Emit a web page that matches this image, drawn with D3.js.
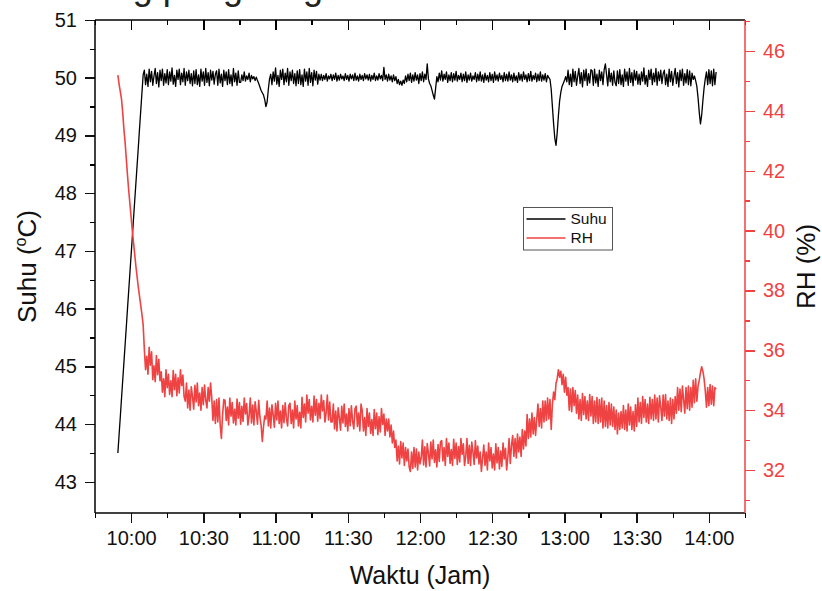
<!DOCTYPE html>
<html>
<head>
<meta charset="utf-8">
<script src="https://cdn.jsdelivr.net/npm/d3@7"></script>
<style>
	body { margin: 0; background: #fff; }
	svg { display: block; font-family: 'Liberation Sans', Arial, sans-serif; }
	.axis path, .axis line { shape-rendering: crispEdges; }
</style>
</head>
<body>
<div id="app"></div>
<script>

// readings every 30 s, starting 09:54:30
const startTime = '09:54:30';
const stepSeconds = 30;

// Suhu (oC), left axis
const suhu = [
	43.5, 43.81, 44.12, 44.44, 44.75, 45.06, 45.37, 45.68, 46.0, 46.31, 46.62,
	46.93, 47.24, 47.56, 47.87, 48.18, 48.49, 48.8, 49.12, 49.43, 49.74, 50.05,
	50.13, 49.88, 50.06, 49.85, 50.15, 49.93, 50.11, 49.87, 50.03, 50.16, 49.9, 50.09, 49.84, 50.13, 49.95, 50.15, 49.87, 50.07, 49.91, 50.14,
	49.88, 50.1, 49.94, 50.17, 49.89, 50.04, 49.85, 50.13, 49.97, 50.15, 49.88, 50.08, 49.93, 50.16, 49.87, 50.1, 49.95, 50.13, 49.9, 50.07,
	49.86, 50.12, 49.9, 50.14, 49.88, 50.05, 49.85, 50.15, 49.94, 50.1, 49.87, 50.16, 49.92, 50.09, 49.86, 50.13, 49.96, 50.11, 49.89, 50.06,
	50.12, 49.87, 50.15, 49.91, 50.06, 49.85, 50.13, 49.95, 50.1, 49.88, 50.14, 49.9, 50.05, 49.86, 50.16, 49.93, 50.08, 49.87, 50.12, 49.92,
	49.92, 50.05, 49.95, 50.1, 49.94, 50.03, 49.97, 50.08, 49.93, 50.04, 49.98, 50.02, 49.95, 50.01,
	49.95, 49.9, 49.84, 49.78, 49.74, 49.7, 49.62, 49.5, 49.58, 49.8, 49.98, 50.06,
	49.88, 50.1, 49.94, 50.17, 49.89, 50.04, 49.85, 50.13, 49.97, 50.15, 49.88, 50.08, 49.93, 50.16, 49.87, 50.1, 49.95, 50.13, 49.9, 50.07,
	49.86, 50.12, 49.9, 50.14, 49.88, 50.05, 49.85, 50.15, 49.94, 50.1, 49.87, 50.16, 49.92, 50.09, 49.86, 50.13, 49.96, 50.11, 49.89, 50.06,
	49.96, 50.06, 49.95, 50.04, 49.97, 50.07, 49.94, 50.03, 49.98, 50.06, 49.95, 50.05, 49.97, 50.08, 49.94, 50.04, 49.96, 50.06, 49.98, 50.03,
	49.95, 50.07, 49.97, 50.04, 49.94, 50.06, 49.98, 50.05, 49.95, 50.08, 49.96, 50.03, 49.94, 50.06, 49.97, 50.04, 49.95, 50.07, 49.98, 50.05,
	49.96, 50.06, 49.94, 50.04, 49.97, 50.08, 49.95, 50.03, 49.96, 50.07, 49.98, 50.04, 49.95, 50.18, 49.97, 50.05, 49.94, 50.06, 49.96, 50.03,
	49.93, 50.05, 49.95, 50.02, 49.9, 49.97, 49.88, 49.94, 49.87, 49.96, 49.9, 50.03, 49.93, 50.06, 49.95, 50.08, 49.92, 50.05,
	49.94, 50.09, 49.96, 50.05, 49.9, 50.07, 49.95, 50.1, 49.93, 50.06, 49.97, 50.24, 49.98, 49.9,
	49.86, 49.78, 49.7, 49.63, 49.82, 50.02,
	49.93, 50.08, 49.96, 50.12, 49.94, 50.06, 49.97, 50.1, 49.92, 50.05, 49.95, 50.09, 49.93, 50.07, 49.96, 50.11, 49.94, 50.04, 49.97, 50.08,
	49.93, 50.06, 49.95, 50.1, 49.92, 50.05, 49.96, 50.08, 49.94, 50.03, 49.97, 50.09, 49.93, 50.06, 49.95, 50.1, 49.94, 50.05, 49.92, 50.08,
	49.96, 50.04, 49.93, 50.09, 49.95, 50.06, 49.92, 50.1, 49.96, 50.05, 49.94, 50.08, 49.97, 50.04, 49.93, 50.09, 49.95, 50.06, 49.94, 50.1,
	49.96, 50.05, 49.93, 50.08, 49.95, 50.03, 49.92, 50.09, 49.96, 50.06, 49.94, 50.1, 49.97, 50.05, 49.93, 50.07, 49.95, 50.11, 49.94, 50.04,
	49.97, 50.08, 49.93, 50.06, 49.95, 50.1, 49.94, 50.05, 49.96, 50.07, 49.93, 50.04, 50.0,
	49.97, 49.8, 49.5, 49.2, 48.95, 48.83, 49.05, 49.35, 49.6, 49.75, 49.85, 49.9, 49.95, 50.02, 49.93,
	50.13, 49.88, 50.06, 49.85, 50.15, 49.93, 50.11, 49.87, 50.03, 50.16, 49.9, 50.09, 49.84, 50.13, 49.95, 50.15, 49.87, 50.07, 49.91, 50.14,
	50.12, 49.87, 50.15, 49.91, 50.06, 49.85, 50.13, 49.95, 50.1, 49.88, 50.14, 50.24, 50.05, 49.86, 50.16, 49.93, 50.08, 49.87, 50.12, 49.92,
	49.86, 50.12, 49.9, 50.14, 49.88, 50.05, 49.85, 50.15, 49.94, 50.1, 49.87, 50.16, 49.92, 50.09, 49.86, 50.13, 49.96, 50.11, 49.89, 50.06,
	49.88, 50.1, 49.94, 50.17, 49.89, 50.04, 49.85, 50.13, 49.97, 50.15, 49.88, 50.08, 49.93, 50.16, 49.87, 50.1, 49.95, 50.13, 49.9, 50.07,
	50.13, 49.88, 50.06, 49.85, 50.15, 49.93, 50.11, 49.87, 50.03, 50.16, 49.9, 50.09, 49.84, 50.13, 49.95, 50.15, 49.87, 50.07, 49.91, 50.14, 49.88, 50.12, 49.86, 50.08,
	49.97, 50.03, 49.95, 49.85, 49.65, 49.4, 49.2, 49.35, 49.6, 49.82, 49.98, 50.1,
	49.88, 50.14, 49.9, 50.12, 49.86, 50.15, 49.88, 50.1
];

// RH (%), right axis
const rh = [
	45.2, 44.9, 44.65, 44.4, 43.95, 43.4, 42.95, 42.4, 41.85, 41.35, 40.9,
	40.45, 40.0, 39.6, 39.2, 38.8, 38.45, 38.1, 37.8, 37.5, 37.2, 36.85,
	36.03, 35.35, 35.8, 35.2, 36.1, 35.5, 35.95, 35.02, 35.48, 34.95, 35.82, 35.18, 35.7, 34.98,
	35.28, 34.6, 35.05, 34.45, 35.35, 34.75, 35.2, 34.52, 34.98, 34.45, 35.32, 34.68, 35.2, 34.48, 35.08, 34.57, 35.35, 34.82, 35.17, 34.45,
	34.3, 34.9, 34.07, 34.67, 34.0, 34.78, 34.45, 34.03, 34.83, 34.27, 34.9, 34.15, 34.57, 34.0, 34.75, 34.18, 34.84, 34.33, 34.07, 34.75, 34.3, 34.9,
	34.4, 33.65, 34.3, 33.55, 34.35, 33.6, 34.4, 33.5, 33.05, 33.85, 34.35,
	34.33, 33.65, 34.1, 33.5, 34.4, 33.8, 34.25, 33.57, 34.03, 33.5, 34.37, 33.73, 34.25, 33.53, 34.13, 33.62, 34.4, 33.87, 34.22, 33.5,
	33.8, 34.4, 33.57, 34.17, 33.5, 34.28, 33.95, 33.53, 34.33, 33.77,
	33.5, 32.95, 33.45, 33.8,
	33.7, 34.3, 33.47, 34.07, 33.4, 34.18, 33.85, 33.43, 34.23, 33.67, 34.3, 33.55, 33.97, 33.4, 34.15, 33.58, 34.24, 33.73, 33.47, 34.15,
	34.23, 33.55, 34.0, 33.4, 34.3, 33.7, 34.15, 33.47, 33.93, 33.4,
	34.43, 33.75, 34.2, 33.6, 34.5, 33.9, 34.35, 33.67, 34.13, 33.6, 34.47, 33.83, 34.35, 33.63, 34.23, 33.72, 34.5, 33.97, 34.32, 33.6,
	33.9, 34.5, 33.67, 34.27, 33.6,
	33.6, 34.2, 33.37, 33.97, 33.3, 34.08, 33.75, 33.33, 34.13, 33.57, 34.2, 33.45, 33.87, 33.3, 34.05, 33.48, 34.14, 33.63, 33.37, 34.05,
	34.13, 33.45, 33.9, 33.3, 34.2,
	33.98, 33.3, 33.75, 33.15, 34.05, 33.45, 33.9, 33.22, 33.68, 33.15, 34.02, 33.38, 33.9, 33.18, 33.78, 33.27, 34.05, 33.52, 33.87, 33.15,
	33.7,
	33.3, 33.7, 33.1, 33.5, 32.9, 33.3, 32.75,
	33.0, 32.3, 32.8, 32.2, 32.95, 32.4, 32.9, 32.15, 32.75, 32.3, 32.7, 32.1,
	31.95, 32.6, 32.05, 32.75, 32.1, 32.7, 32.0, 32.6, 32.2,
	32.4, 33.0, 32.17, 32.77, 32.1, 32.88, 32.55, 32.13, 32.93, 32.37, 33.0, 32.25, 32.67, 32.1, 32.85, 32.28, 32.94,
	32.98, 32.3, 32.75, 32.15, 33.05, 32.45, 32.9, 32.22, 32.68, 32.15, 33.02, 32.38, 32.9, 32.18, 32.78, 32.27, 33.05, 32.52, 32.87, 32.15,
	32.45, 33.05, 32.22, 32.82, 32.15, 32.93, 32.6, 32.18, 32.98,
	32.4, 32.8, 32.2, 32.6, 31.95, 32.4,
	32.83, 32.15, 32.6, 32.0, 32.9, 32.3, 32.75, 32.07, 32.53, 32.0, 32.87, 32.23, 32.75, 32.03, 32.63, 32.12, 32.9, 32.37, 32.72, 32.0,
	32.45, 33.05, 32.22, 32.82,
	33.15, 32.45, 33.05, 32.4, 33.2, 32.6, 33.1, 32.45,
	33.35, 32.7, 33.3, 32.8,
	33.85, 33.05, 33.7, 33.1, 33.9, 33.2, 33.75, 33.15, 33.7,
	34.2, 33.45, 34.05, 33.4, 34.3, 33.6, 34.3, 33.65, 34.4, 33.7, 34.35,
	33.35,
	34.2, 34.6, 34.35, 34.9, 35.05,
	35.35, 35.1, 35.3,
	34.85, 35.2, 34.6, 35.1, 34.5,
	34.75, 34.0, 34.7, 33.95, 34.75, 34.15, 34.65, 33.9,
	34.5, 33.7, 34.35, 33.65, 34.55, 33.85, 34.45, 33.7, 34.3, 33.65, 34.52, 33.8, 34.45,
	33.55, 34.3, 33.6, 34.42, 33.55, 34.35, 33.6, 34.4,
	33.4, 34.3, 33.45, 34.15, 33.4, 34.25, 33.5, 34.2, 33.45, 34.1, 33.35, 34.0,
	33.2, 33.9, 33.35, 33.95, 33.4,
	34.15, 33.35, 34.0, 33.3, 34.2, 33.5, 34.1, 33.35, 33.95, 33.3, 34.18, 33.45,
	34.4, 33.6, 34.25, 33.55, 34.45, 33.75, 34.35, 33.6, 34.2, 33.55, 34.43, 33.7, 34.35,
	33.65, 34.5, 33.7, 34.4, 33.6, 34.48, 34.1, 33.65, 34.5, 33.8, 34.52, 33.7,
	34.3, 33.65, 34.4, 33.55, 34.35, 33.7, 34.45,
	33.9, 34.75, 34.0, 34.7, 33.95, 34.8, 34.35, 33.9, 34.75, 34.05, 34.8, 34.0, 34.75, 34.1,
	35.0, 34.25, 35.05, 34.3,
	34.8, 35.0, 35.25, 35.45, 35.3, 35.05, 34.65,
	34.1, 34.75, 34.15, 34.85, 34.2, 34.8, 34.15, 34.75, 34.7
];

const timeDomain = ['09:45', '14:15'];
const timeMajor = ['10:00', '10:30', '11:00', '11:30', '12:00', '12:30', '13:00', '13:30', '14:00'];
const timeMinor = ['09:45', '10:15', '10:45', '11:15', '11:45', '12:15', '12:45', '13:15', '13:45', '14:15'];

const suhuDomain = [42.46, 51];
const suhuMajor = [43, 44, 45, 46, 47, 48, 49, 50, 51];
const suhuMinor = [43.5, 44.5, 45.5, 46.5, 47.5, 48.5, 49.5, 50.5];

const rhDomain = [30.56, 47.04];
const rhMajor = [32, 34, 36, 38, 40, 42, 44, 46];
const rhMinor = [31, 33, 35, 37, 39, 41, 43, 45, 47];

const legendItems = ['Suhu', 'RH'];

const red = '#ef4242';

const chart = () => {

	const parseTime = d3.timeParse('%H:%M');
	const parseStart = d3.timeParse('%H:%M:%S');

	const width = 822,
		height = 591,
		margin = {
			top: 20,
			right: 77,
			bottom: 78,
			left: 95
		},
		innerW = width - margin.left - margin.right,
		innerH = height - margin.top - margin.bottom;

	const t0 = parseStart(startTime);
	const timeAt = i => new Date(t0.getTime() + i * stepSeconds * 1000);

	let xScale = d3.scaleTime()
		.domain(timeDomain.map(parseTime))
		.range([0, innerW]);

	let ySuhu = d3.scaleLinear()
		.domain(suhuDomain)
		.range([innerH, 0]);

	let yRh = d3.scaleLinear()
		.domain(rhDomain)
		.range([innerH, 0]);

	let svg = d3.select('#app').append('svg')
		.attr('width', width)
		.attr('height', height);

	// caption above the graph, cut by the top edge
	svg.append('text')
		.attr('x', 323)
		.attr('y', -1)
		.attr('text-anchor', 'end')
		.style('font-size', '36px')
		.attr('fill', '#222')
		.text('Suhu dan RH ruang pengering');

	let g = svg.append('g')
		.attr('transform', `translate(${ margin.left },${ margin.top })`);

	const styleAxis = (sel, color) => {
		sel.select('.domain').remove();
		sel.selectAll('line').attr('stroke', color).attr('stroke-width', 1.5);
		sel.selectAll('text')
			.attr('fill', color)
			.style('font-size', '20px')
			.style('font-family', "'Liberation Sans', Arial, sans-serif");
	};

	// x axis, bottom
	g.append('g')
		.classed('x axis minor', true)
		.attr('transform', `translate(0,${ innerH })`)
		.call(d3.axisBottom(xScale).tickValues(timeMinor.map(parseTime)).tickSize(5).tickFormat(''))
		.call(s => styleAxis(s, '#000'));

	let xAxis = d3.axisBottom(xScale)
		.tickValues(timeMajor.map(parseTime))
		.tickSize(10)
		.tickPadding(8)
		.tickFormat(d3.timeFormat('%H:%M'));
	g.append('g')
		.classed('x axis', true)
		.attr('transform', `translate(0,${ innerH })`)
		.call(xAxis)
		.call(s => styleAxis(s, '#111'));

	// top frame with inward ticks
	g.append('g')
		.classed('x axis top', true)
		.call(d3.axisBottom(xScale).tickValues(timeMinor.map(parseTime)).tickSize(5).tickFormat(''))
		.call(s => styleAxis(s, '#000'));
	g.append('g')
		.classed('x axis top', true)
		.call(d3.axisBottom(xScale).tickValues(timeMajor.map(parseTime)).tickSize(10).tickFormat(''))
		.call(s => styleAxis(s, '#000'));

	// left axis
	g.append('g')
		.classed('y axis minor', true)
		.call(d3.axisLeft(ySuhu).tickValues(suhuMinor).tickSize(5).tickFormat(''))
		.call(s => styleAxis(s, '#000'));
	g.append('g')
		.classed('y axis', true)
		.call(d3.axisLeft(ySuhu).tickValues(suhuMajor).tickSize(10).tickPadding(8).tickFormat(d3.format('d')))
		.call(s => styleAxis(s, '#111'));

	// right axis
	g.append('g')
		.classed('y axis right minor', true)
		.attr('transform', `translate(${ innerW },0)`)
		.call(d3.axisRight(yRh).tickValues(rhMinor).tickSize(5).tickFormat(''))
		.call(s => styleAxis(s, red));
	g.append('g')
		.classed('y axis right', true)
		.attr('transform', `translate(${ innerW },0)`)
		.call(d3.axisRight(yRh).tickValues(rhMajor).tickSize(10).tickPadding(8).tickFormat(d3.format('d')))
		.call(s => styleAxis(s, red));

	// frame lines
	g.append('line')
		.attr('x1', 0).attr('x2', innerW)
		.attr('y1', 0).attr('y2', 0)
		.attr('stroke', '#000').attr('stroke-width', 1.5);
	g.append('line')
		.attr('x1', 0).attr('x2', innerW)
		.attr('y1', innerH).attr('y2', innerH)
		.attr('stroke', '#000').attr('stroke-width', 1.5);
	g.append('line')
		.attr('x1', 0).attr('x2', 0)
		.attr('y1', 0).attr('y2', innerH)
		.attr('stroke', '#000').attr('stroke-width', 1.5);
	g.append('line')
		.attr('x1', innerW).attr('x2', innerW)
		.attr('y1', 0).attr('y2', innerH)
		.attr('stroke', red).attr('stroke-width', 1.5);

	// series
	let lineSuhu = d3.line()
		.x((d, i) => xScale(timeAt(i)))
		.y(d => ySuhu(d));
	let lineRh = d3.line()
		.x((d, i) => xScale(timeAt(i)))
		.y(d => yRh(d));

	g.append('path')
		.datum(suhu)
		.attr('fill', 'none')
		.attr('stroke', '#000')
		.attr('stroke-width', 1.3)
		.attr('stroke-linejoin', 'round')
		.attr('d', lineSuhu);

	g.append('path')
		.datum(rh)
		.attr('fill', 'none')
		.attr('stroke', red)
		.attr('stroke-width', 1.6)
		.attr('stroke-linejoin', 'round')
		.attr('d', lineRh);

	// axis titles
	svg.append('text')
		.attr('transform', `translate(36,${ margin.top + innerH / 2 }) rotate(-90)`)
		.attr('text-anchor', 'middle')
		.style('font-size', '26px')
		.attr('fill', '#111')
		.call(t => {
			t.append('tspan').text('Suhu (');
			t.append('tspan').attr('dy', -10).style('font-size', '16px').text('o');
			t.append('tspan').attr('dy', 10).text('C)');
		});

	svg.append('text')
		.attr('transform', `translate(815,${ margin.top + innerH / 2 }) rotate(-90)`)
		.attr('text-anchor', 'middle')
		.style('font-size', '26px')
		.attr('fill', '#111')
		.text('RH (%)');

	svg.append('text')
		.attr('x', margin.left + innerW / 2)
		.attr('y', 584)
		.attr('text-anchor', 'middle')
		.style('font-size', '25px')
		.attr('fill', '#111')
		.text('Waktu (Jam)');

	// legend
	let legend = svg.append('g')
		.attr('transform', 'translate(523.5,207.5)');
	legend.append('rect')
		.attr('width', 89)
		.attr('height', 42.5)
		.attr('fill', '#fff')
		.attr('stroke', '#555')
		.attr('stroke-width', 1);
	legend.selectAll('g.item')
		.data(legendItems)
		.enter()
		.append('g')
		.classed('item', true)
		.attr('transform', (d, i) => `translate(0,${ 11.5 + i * 19 })`)
		.each(function (d, i) {
			d3.select(this).append('line')
				.attr('x1', 3).attr('x2', 42)
				.attr('stroke', i === 0 ? '#000' : red)
				.attr('stroke-width', 1.3);
			d3.select(this).append('text')
				.attr('x', 47)
				.attr('dy', '0.35em')
				.style('font-size', '15.5px')
				.attr('fill', '#111')
				.text(d);
		});

};

chart();

</script>
</body>
</html>
